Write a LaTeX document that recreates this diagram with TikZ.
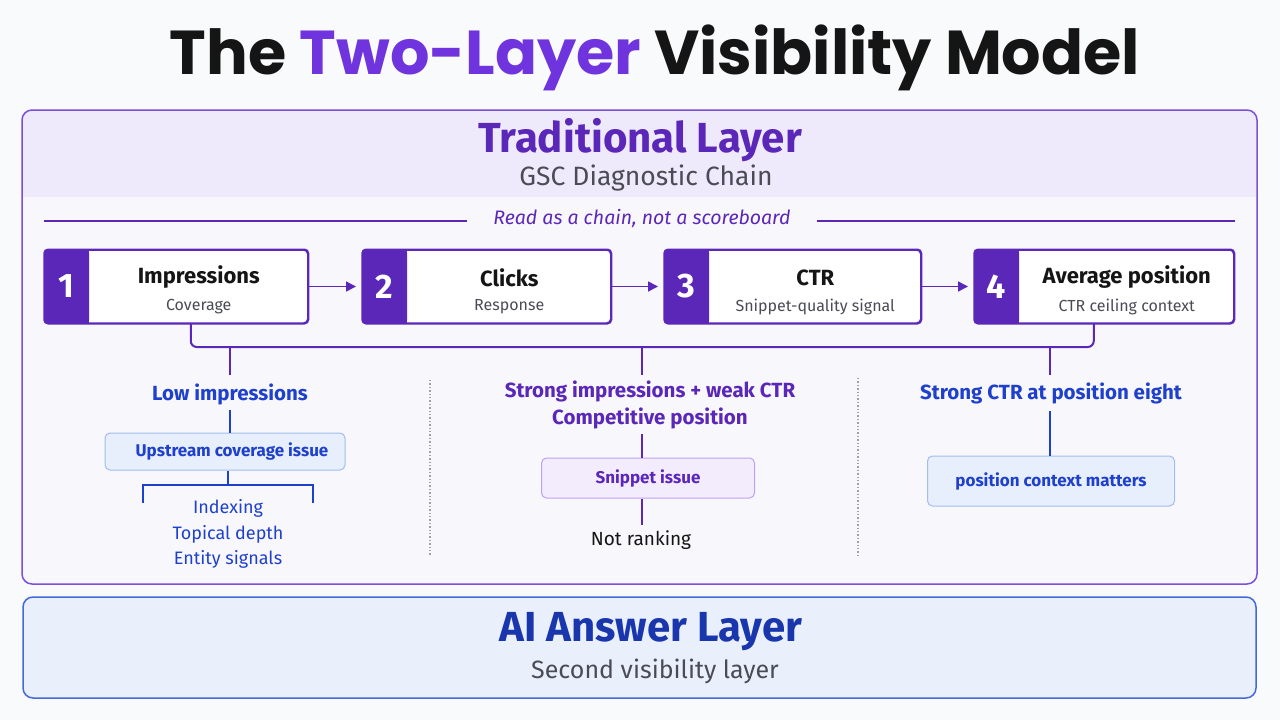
\documentclass[tikz,border=0pt]{standalone}
\usepackage{fontspec}
\setmainfont{Fira Sans}
\newfontfamily\titlefont{Poppins}
\usetikzlibrary{arrows.meta,calc,positioning}
\definecolor{DPurple}{HTML}{5B27B8}
\definecolor{TPurple}{HTML}{6F34DE}
\definecolor{LPurple}{HTML}{7C4FD9}
\definecolor{Lav}{HTML}{EFEAFB}
\definecolor{PaleBg}{HTML}{F8F8FC}
\definecolor{PageBg}{HTML}{F9FAFC}
\definecolor{DBlue}{HTML}{1E40CC}
\definecolor{BlueFill}{HTML}{E7EEFC}
\definecolor{BlueLine}{HTML}{A3BCF2}
\definecolor{AIFill}{HTML}{E9F0FC}
\definecolor{AILine}{HTML}{4569DA}
\definecolor{PurFill}{HTML}{F3ECFD}
\definecolor{PurLine}{HTML}{BFA2EF}
\definecolor{Ink}{HTML}{151515}
\definecolor{Grey}{HTML}{4B4B55}
\definecolor{Dots}{HTML}{A0A0A8}

\tikzset{
    stepbox/.style={draw=DPurple, line width=1.5pt, fill=white, rounded corners=4pt, minimum height=73pt, inner sep=0pt},
    stepnum/.style={white, font=\bfseries\fontsize{34}{34}\selectfont},
    steptitle/.style={Ink, font=\bfseries\fontsize{22}{24}\selectfont},
    stepsub/.style={Grey, font=\fontsize{16}{18}\selectfont},
    flow/.style={DPurple, line width=1.6pt, shorten >=6pt, -{Triangle[length=10pt,width=10pt]}},
    bus/.style={DPurple, line width=2pt},
    blueline/.style={DBlue, line width=1.6pt},
    purline/.style={DPurple, line width=1.6pt},
    bluehead/.style={text=DBlue, font=\bfseries\fontsize{20.5}{27}\selectfont, align=center},
    purhead/.style={text=DPurple, font=\bfseries\fontsize{20.5}{27}\selectfont, align=center},
    bluebox/.style={draw=BlueLine, line width=1pt, fill=BlueFill, rounded corners=5pt, text=DBlue, font=\bfseries\fontsize{17}{20}\selectfont},
    purbox/.style={draw=PurLine, line width=1pt, fill=PurFill, rounded corners=5pt, text=DPurple, font=\bfseries\fontsize{17}{20}\selectfont},
    sepline/.style={Dots, line width=1.4pt, dotted},
}

\NewDocumentCommand{\DrawStep}{m m m m m m}{
    \node[stepbox, minimum width=#3pt-#2pt, anchor=west] (#1) at (#2,286.5) {};
    \fill[DPurple, rounded corners=4pt] (#1.north west) rectangle ([xshift=45pt]#1.south west);
    \fill[DPurple] ([xshift=38pt]#1.north west) rectangle ([xshift=45pt]#1.south west);
    \draw[DPurple, line width=1.5pt, rounded corners=4pt] (#1.south west) rectangle (#1.north east);
    \node[stepnum] (#1num) at ($(#1.west)+(22.5,0)$) {#4};
    \node[steptitle] (#1title) at ($(#1.center)+(22.5,-9)$) {#5};
    \node[stepsub] (#1sub) at ($(#1.center)+(22.5,20.5)$) {#6};
}

\begin{document}
\begin{tikzpicture}[x=1pt, y=-1pt]

    \useasboundingbox (0,0) rectangle (1280,720);
    \fill[PageBg] (0,0) rectangle (1280,720);

    \node[Ink, font=\titlefont\bfseries\fontsize{62}{68}\selectfont] (title) at (655,58)
        {The \textcolor{TPurple}{Two-Layer} Visibility Model};

    % traditional layer
    \fill[PaleBg, rounded corners=10pt] (22,110) rectangle (1257,584);
    \begin{scope}
        \clip[rounded corners=10pt] (22,110) rectangle (1257,584);
        \fill[Lav] (22,110) rectangle (1257,197);
    \end{scope}
    \draw[LPurple, line width=1.5pt, rounded corners=10pt] (22,110) rectangle (1257,584);

    \node[DPurple, font=\bfseries\fontsize{42}{44}\selectfont] (trad) at (640,140) {Traditional Layer};
    \node[Grey, font=\fontsize{26.5}{28}\selectfont] (gsc) at (646,178) {GSC Diagnostic Chain};

    \node[DPurple, font=\itshape\fontsize{19.5}{21}\selectfont, inner xsep=26pt] (read) at (642,219) {Read as a chain, not a scoreboard};
    \coordinate (readL) at (44,221);
    \coordinate (readR) at (1235,221);
    \draw[DPurple, line width=1.2pt] (readL) -- (readL -| read.west);
    \draw[DPurple, line width=1.2pt] (read.east |- readR) -- (readR);

    \DrawStep{step1}{44}{307}{1}{Impressions}{Coverage}
    \DrawStep{step2}{362}{610}{2}{Clicks}{Response}
    \DrawStep{step3}{664}{920}{3}{CTR}{Snippet-quality signal}
    \DrawStep{step4}{974}{1233}{4}{Average position}{CTR ceiling context}

    \foreach \a/\b in {step1/step2, step2/step3, step3/step4} {
        \draw[flow] (\a.east) -- (\b.west);
    }

    \coordinate (bus) at (640,347);
    \draw[bus, rounded corners=6pt] ([xshift=14.5pt]step1.south) |- (bus) -| ([xshift=-10.5pt]step4.south);

    % left column
    \coordinate (drop1) at (230,347);
    \node[bluehead] (low) at (230,394) {Low impressions};
    \node[bluebox, minimum width=240pt, minimum height=37pt] (upstream) at (225,451.5) {\hspace{14pt}Upstream coverage issue};
    \node[DBlue, font=\fontsize{18}{25.5}\selectfont, align=center] (causes) at (228,534) {Indexing\\Topical depth\\Entity signals};
    \draw[bus] (drop1) -- (drop1 |- 0,375);
    \draw[blueline] (low.south |- 0,410) -- (low.south |- upstream.north);
    \coordinate (forkL) at (143,503);
    \coordinate (forkR) at (313,503);
    \draw[blueline] (upstream.south -| 228,0) -- (228,485);
    \draw[blueline] (forkL) |- (228,485) -| (forkR);

    \draw[sepline] (430,380) -- (430,555);
    \draw[sepline] (858,378) -- (858,558);

    % middle column
    \coordinate (drop2) at (642,347);
    \node[purhead] (weak) at (650,405) {Strong impressions + weak CTR\\Competitive position};
    \node[purbox, minimum width=213pt, minimum height=40pt] (snippet) at (648,478) {Snippet issue};
    \node[Ink, font=\fontsize{19}{21}\selectfont] (notrank) at (641,540) {Not ranking};
    \draw[bus] (drop2) -- (drop2 |- 0,375);
    \draw[purline] (642,434) -- (642,0 |- snippet.north);
    \draw[purline] (642,0 |- snippet.south) -- (642,525);

    % right column
    \coordinate (drop3) at (1050,347);
    \node[bluehead] (eight) at (1051,393) {Strong CTR at position eight};
    \node[bluebox, minimum width=247pt, minimum height=50pt] (context) at (1051,481) {position context matters};
    \draw[bus] (drop3) -- (drop3 |- 0,375);
    \draw[blueline] (1050,411) -- (1050,0 |- context.north);

    % ai layer
    \draw[AILine, fill=AIFill, line width=1.5pt, rounded corners=10pt] (23,597) rectangle (1256,698);
    \node[DBlue!85!black, font=\bfseries\fontsize{42}{44}\selectfont] (ai) at (651,632) {AI Answer Layer};
    \node[Grey, font=\fontsize{25}{27}\selectfont] (second) at (655,671) {Second visibility layer};
\end{tikzpicture}
\end{document}
